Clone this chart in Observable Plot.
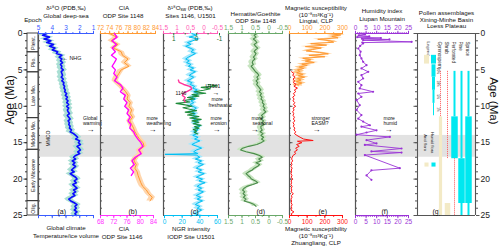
<!DOCTYPE html>
<html><head><meta charset="utf-8">
<script src="https://cdn.jsdelivr.net/npm/d3@7"></script>
<script src="https://cdn.jsdelivr.net/npm/@observablehq/plot@0.6"></script>
<style>
html,body{margin:0;padding:0;background:#fff;}
#chart{position:relative;width:500px;height:251px;overflow:hidden;font-family:Arial,"Liberation Sans",sans-serif;}
#chart svg{position:absolute;left:0;top:0;}
</style></head><body><div id="chart"></div>
<script>
// ---------------- DATA ----------------
const epochNames = ["Pleist.", "Plio.", "Late Mio.", "Middle Mio.", "Early Miocene", "Olig."];
const epochBounds = [0, 2.58, 5.33, 11.63, 15.97, 23.03, 25];
const mmcoBand = [14, 17];

// (a) global deep-sea d18O [age Ma, permil]
const d18O = [[0,4.4],[0.25,4.7],[0.5,4.2],[0.75,4.6],[1,4.1],[1.25,4.4],[1.5,3.9],[1.75,4.2],[2,3.8],[2.25,4.0],[2.5,3.6],[2.75,3.7],[3,3.3],[3.25,3.5],[3.5,3.3],[3.75,3.4],[4,3.25],[4.25,3.4],[4.5,3.3],[4.75,3.35],[5,3.2],[5.25,3.35],[5.5,3.3],[5.75,3.25],[6,3.35],[6.25,3.2],[6.5,3.3],[6.75,3.15],[7,3.2],[7.25,3.1],[7.5,3.15],[7.75,3.05],[8,3.1],[8.25,2.95],[8.5,3.05],[8.75,2.9],[9,3.0],[9.25,2.85],[9.5,2.95],[9.75,2.8],[10,2.95],[10.25,2.8],[10.5,2.9],[10.75,2.85],[11,2.75],[11.25,2.9],[11.5,2.8],[11.75,2.7],[12,2.85],[12.25,2.75],[12.5,2.8],[12.75,2.7],[13,2.75],[13.25,2.6],[13.5,2.7],[13.75,2.45],[14,2.3],[14.25,2.15],[14.5,2.3],[14.75,2.0],[15,2.1],[15.25,1.95],[15.5,2.2],[15.75,2.05],[16,1.95],[16.25,2.15],[16.5,2.0],[16.75,2.3],[17,2.45],[17.25,2.3],[17.5,2.55],[17.75,2.35],[18,2.5],[18.25,2.3],[18.5,2.45],[18.75,2.6],[19,2.4],[19.25,2.7],[19.5,2.5],[19.75,2.3],[20,2.2],[20.25,2.4],[20.5,2.25],[20.75,2.5],[21,2.35],[21.25,2.2],[21.5,2.45],[21.75,2.3],[22,2.5],[22.25,2.35],[22.5,2.6],[22.75,2.8],[23,2.65],[23.25,2.4],[23.5,2.2],[23.75,2.35],[24,2.25],[24.25,2.4],[24.5,2.2],[24.75,2.35],[25,2.25]];

// (b) CIA, ODP 1148 (top axis) and ODP 1146 (bottom axis)
const cia1148 = [[0,74],[0.5,75.5],[1,74.3],[1.5,75.8],[2,74.8],[2.5,76.5],[3,76.8],[3.5,78],[4,77.2],[4.5,78.2],[5,76.5],[5.5,76],[6,75.5],[6.5,75.2],[7,76],[7.5,76.8],[8,77.5],[8.5,78],[9,77.8],[9.5,78.5],[10,78.2],[10.5,78.8],[11,78.5],[11.5,79],[12,78.4],[12.5,78.8],[13,79.2],[13.5,79.5],[14,80],[14.5,80.5],[15,81.3],[15.5,81.5],[16,80.5],[16.5,80.8],[17,79.8],[17.5,79.3],[18,79.8],[18.5,79.5],[19,80],[19.5,80.2],[20,80.5],[20.5,80.8],[21,81.2],[21.5,82],[22,82.5],[22.5,83.3],[23,82.8]];
const cia1146 = [[0,72.2],[0.5,73],[1,71.5],[1.5,72.8],[2,71.5],[2.5,72.5],[3,71.3],[3.5,72.8],[4,72.2],[4.5,71.5],[5,72.5],[5.5,72],[6,73],[6.5,72.2],[7,74],[7.5,74.8],[8,74],[8.5,75.5],[9,75],[9.5,76],[10,75.3],[10.5,76.5],[11,76],[11.5,77],[12,76.3],[12.5,77.2],[13,76.8],[13.5,78],[14,78.5],[14.5,79.3],[15,80.2],[15.5,80.8],[16,79.5],[16.5,80.3],[17,78.5],[17.5,77.5],[18,78.2],[18.5,77],[19,78],[19.5,77.3]];

// (c) d18Osw 1146 (top pink), U1501 (inner green), NGR U1501 (bottom cyan)
const dsw1146 = [[6.4,0.95],[6.7,0.92],[7.0,0.75],[7.3,0.5],[7.6,0.45],[7.9,0.6],[8.2,0.75],[8.5,0.8],[8.8,0.7],[9.1,0.75],[9.4,0.7]];
const dswU1501 = [[7.0,-0.5],[7.2,-0.9],[7.4,-0.2],[7.6,-0.6],[7.8,-0.3],[8.0,0.1],[8.2,-0.4],[8.4,0.2],[8.6,-0.1],[8.8,0.4],[9.0,0.1],[9.2,0.6],[9.4,0.3],[9.6,0.9],[9.8,0.5],[10.0,0.2],[10.2,0.6],[10.4,0.3],[10.6,0.0],[10.8,0.5],[11.0,0.1],[11.2,0.4],[11.4,-0.1],[11.6,0.3],[11.8,-0.2],[12.0,0.2],[12.2,-0.1],[12.4,0.15],[12.6,-0.2],[12.8,0.1],[13.0,-0.1],[13.2,0.15],[13.4,0.0],[13.6,0.1],[13.8,-0.05]];
const ngrU1501 = [[0,31],[0.25,36],[0.5,28],[0.75,38],[1,32],[1.25,26],[1.5,30],[1.75,24],[2,29],[2.25,33],[2.5,30],[2.75,35],[3,31],[3.25,27],[3.5,24],[3.75,28],[4,25],[4.25,30],[4.5,27],[4.75,33],[5,29],[5.25,35],[5.5,31],[5.75,28],[6,33],[6.25,30],[6.5,26],[6.75,31],[7,29],[7.25,34],[7.5,32],[7.75,37],[8,33],[8.25,38],[8.5,34],[8.75,31],[9,35],[9.25,30],[9.5,33],[9.75,29],[10,32],[10.25,36],[10.5,33],[10.75,31],[11,35],[11.25,32],[11.5,36],[11.75,33],[12,38],[12.25,34],[12.5,36],[12.75,40],[13,35],[13.25,38],[13.5,33],[13.75,37],[14,32],[14.25,38],[14.5,34],[14.75,40],[15,35],[15.25,31],[15.5,37],[15.75,42],[16,36],[16.25,33],[16.5,38],[16.6,0.5],[16.7,36],[17,40],[17.25,35],[17.5,42],[17.75,38],[18,44],[18.25,39],[18.5,36],[18.75,42],[19,38],[19.25,45],[19.5,40],[19.75,36],[20,43],[20.25,39],[20.5,46],[20.75,40],[21,37],[21.25,42],[21.5,38],[21.75,44],[22,40],[22.25,36],[22.5,41],[22.75,37],[23,43],[23.25,38],[23.5,35],[23.75,40],[24,37],[24.25,42],[24.5,38],[24.75,35],[25,39]];

// (d) Hematite/Goethite ODP 1148
const hemGoe = [[0,0.45],[0.25,0.55],[0.5,0.48],[0.75,0.58],[1,0.5],[1.25,0.45],[1.5,0.55],[1.75,0.5],[2,0.42],[2.25,0.5],[2.5,0.55],[2.75,0.48],[3,0.52],[3.25,0.58],[3.5,0.52],[3.75,0.6],[4,0.62],[4.25,0.58],[4.5,0.66],[4.75,0.6],[5,0.55],[5.25,0.5],[5.5,0.42],[5.75,0.38],[6,0.45],[6.25,0.4],[6.5,0.48],[6.75,0.42],[7,0.46],[7.25,0.4],[7.5,0.35],[7.75,0.3],[8,0.36],[8.25,0.28],[8.5,0.33],[8.75,0.26],[9,0.3],[9.25,0.22],[9.5,0.25],[9.75,0.18],[10,0.22],[10.25,0.15],[10.5,0.2],[10.75,0.12],[11,0.2],[11.25,0.28],[11.5,0.22],[11.75,0.3],[12,0.2],[12.25,0.26],[12.5,0.18],[12.75,0.3],[13,0.3],[13.25,0.25],[13.5,0.33],[13.75,0.22],[14,0.3],[14.25,0.2],[14.5,0.28],[14.75,0.18],[15,0.3],[15.25,0.45],[15.5,0.75],[15.75,0.98],[16,1.05],[16.25,0.85],[16.5,0.55],[16.75,0.35],[17,0.25],[17.25,0.38],[17.5,0.3],[17.75,0.48],[18,0.35],[18.25,0.42],[18.5,0.55],[18.75,0.62],[19,0.75],[19.25,0.85],[19.5,0.78],[19.75,0.7],[20,0.65],[20.25,0.5],[20.5,0.42],[20.75,0.6],[21,0.82],[21.25,0.92],[21.5,0.98],[21.75,0.9],[22,0.96],[22.25,0.88],[22.5,0.95],[22.75,0.85],[23,0.92],[23.25,0.7],[23.5,0.55],[23.75,0.48]];

// (e) Magnetic susceptibility: Lingtai (top, orange), Zhuanglang (bottom, red)
const msLingtai = [[0,210],[0.2,290],[0.4,240],[0.6,275],[0.8,160],[1,230],[1.2,250],[1.4,120],[1.6,210],[1.8,90],[2,180],[2.2,130],[2.4,95],[2.6,170],[2.8,220],[3,110],[3.2,200],[3.4,75],[3.6,120],[3.8,90],[4,140],[4.2,70],[4.4,100],[4.6,55],[4.8,80],[5,45],[5.2,60],[5.4,40],[5.6,75],[5.8,50],[6,85],[6.2,45],[6.4,65],[6.6,40],[6.8,70],[7,45],[7.2,50]];
const msZhuanglang = [[5.25,12],[5.5,25],[5.75,18],[6,32],[6.25,20],[6.5,28],[6.75,22],[7,38],[7.25,25],[7.5,45],[7.75,28],[8,35],[8.25,22],[8.5,30],[8.75,18],[9,26],[9.25,20],[9.5,30],[9.75,22],[10,35],[10.25,20],[10.5,26],[10.75,18],[11,24],[11.25,20],[11.5,28],[11.75,22],[12,30],[12.25,20],[12.5,26],[12.75,22],[13,30],[13.25,25],[13.5,35],[13.75,28],[14,42],[14.25,60],[14.5,80],[14.7,134],[14.8,45],[15,70],[15.25,40],[15.5,55],[15.75,35],[16,45],[16.25,28],[16.5,35],[16.75,20],[17,15],[17.25,12],[17.5,18],[17.75,10],[18,14],[18.25,8],[18.5,15],[18.75,10],[19,12],[19.25,8],[19.5,14],[19.75,10],[20,18],[20.25,9],[20.5,12],[20.75,8],[21,15],[21.25,10],[21.5,13],[21.75,9],[22,22],[22.25,11],[22.5,14],[22.75,8],[23,12],[23.25,9],[23.5,15],[23.75,10],[24,13],[24.25,8],[24.5,25],[24.75,10],[25,14]];

// (f) Humidity index, Liupan Mountain
const humidity = [[0,2.0],[0.12,4.5],[0.25,1.5],[0.4,6.5],[0.5,0.8],[0.62,12],[0.72,3],[0.82,16],[0.92,3.6],[1.15,26.5],[1.25,3.2],[1.37,3.6],[1.7,2.2],[2.06,1.3],[2.5,2.4],[2.98,2.0],[3.43,2.8],[3.89,3.6],[4.35,5.2],[4.8,2.8],[5.26,6.0],[5.72,2.8],[6.18,3.6],[6.64,1.3],[7.1,2.8],[7.55,2.0],[8.0,8.3],[8.24,1.3],[8.7,2.8],[9.16,0.5],[9.84,2.0],[10.5,0.5],[11.2,2.8],[11.7,1.3],[12.1,3.6],[12.6,6.8],[12.8,2.8],[13.3,9.9],[13.6,5.2],[13.9,0.5],[14.2,16.2],[14.65,5.2],[15.1,9.9],[15.3,4.4],[15.8,21.7],[16.2,7.5],[16.35,21.7],[16.7,4.4],[18.5,20.9],[18.8,7.5],[19.5,5.2],[20.1,7.5]];

// (g) Pollen assemblages, Xining-Minhe Basin
const pollenTaxa = ["Gymnosperm", "Shrub", "Perforated", "Pine", "Spruce"];
const floraKeys = ["Arid flora", "Humid flora"];
const aridTaxa = ["Gymnosperm", "Shrub"];
const pollenSegments = [
  ["Gymnosperm", 5.2, 11.45, "absent"], ["Gymnosperm", 11.45, 25, "minor"],
  ["Shrub", 5.2, 17.2, "absent"], ["Shrub", 23.35, 25, "major"],
  ["Perforated", 5.2, 11.45, "minor"], ["Perforated", 11.45, 17.2, "major"], ["Perforated", 17.2, 25, "absent"],
  ["Pine", 5.2, 17.2, "minor"], ["Pine", 17.2, 23.35, "major"], ["Pine", 23.35, 25, "minor"],
  ["Spruce", 5.2, 11.45, "minor"], ["Spruce", 11.45, 23.35, "major"], ["Spruce", 23.35, 25, "minor"]
];
const legendPercents = ["20%", "10%", "5%", "1%"];
const legendSpans = [[4.3, 6.0], [6.0, 7.8], [7.8, 9.6], [9.6, 11.3]];

const ageMajor = [0, 5, 10, 15, 20, 25];

// ---------------- DRAWING ----------------
const FONT = 'Arial, "Liberation Sans", sans-serif';
const STYLE = `background:transparent;overflow:visible;font-family:${FONT};`;
const chart = document.getElementById("chart");
const AX = "#555";
const AGE_MINOR = d3.range(0, 26);
const A = d => d[0], V = d => d[1];

function layer(left, right, x, marks, extra = {}) {
  const svg = Plot.plot(Object.assign({
    width: 500, height: 251,
    marginLeft: left, marginRight: 500 - right, marginTop: 33, marginBottom: 36,
    x: Object.assign({axis: null}, x),
    y: {domain: [0, 25], reverse: true, axis: null},
    style: STYLE,
    marks
  }, extra));
  chart.appendChild(svg);
  return svg;
}
const fmt = d => String(d);
const blank = () => "";
function hAxis(anchor, color, major, minor, labels = true) {
  return [
    Plot.ruleY([anchor === "top" ? 0 : 25], {stroke: color, strokeWidth: 1}),
    Plot.axisX({anchor, ticks: minor, tickSize: 1.8, tickFormat: blank, stroke: color, label: null}),
    Plot.axisX({anchor, ticks: major, tickSize: 3.2, tickPadding: 0.8, tickFormat: labels ? fmt : blank,
      stroke: color, fill: color, fontSize: 6.5, label: null})
  ];
}
function vAxis(xv) {
  return [
    Plot.ruleX([xv], {stroke: AX, strokeWidth: 1.2}),
    Plot.axisY({anchor: "left", ticks: AGE_MINOR, tickSize: -2, tickFormat: blank, stroke: AX, label: null}),
    Plot.axisY({anchor: "left", ticks: ageMajor, tickSize: -3.5, tickFormat: blank, stroke: AX, label: null})
  ];
}
function txt(s, o) { return Plot.text([s], Object.assign({text: d => d, fontSize: 6.2, fill: "#111"}, o)); }
// annotation at page pixel (px, py) given the layer frame's left edge L
function note(s, L, px, py, o = {}) {
  return txt(s, Object.assign({frameAnchor: "top-left", dx: px - L, dy: py - 33, fontSize: 5}, o));
}
function arrowGlyph(L, px, py, size = 8) {
  return note("\u2192", L, px, py, {fontSize: size, fontWeight: "bold"});
}

// gray MMCO band
layer(38, 475, {domain: [0, 1]}, [
  Plot.rect([mmcoBand], {y1: d => d[0], y2: d => d[1], fill: "#e2e2e2"})
]);

// Epoch column + left age axis
const epochs = epochNames.map((name, i) => ({name, start: epochBounds[i], end: epochBounds[i + 1]}));
layer(27, 38, {domain: [0, 1]}, [
  Plot.rect(epochs, {y1: "start", y2: "end", stroke: "#333", strokeWidth: 0.9, fill: "none"}),
  Plot.text(epochs, {y: d => (d.start + d.end) / 2, text: "name", rotate: -90, fontSize: 5.2, fill: "#222"}),
  Plot.axisY({anchor: "left", ticks: AGE_MINOR, tickSize: 2, tickFormat: blank, stroke: "#333", label: null}),
  Plot.axisY({anchor: "left", ticks: ageMajor, tickSize: 3.5, tickPadding: 1.5, tickFormat: fmt, fontSize: 8.5, fill: "#222", stroke: "#333", label: null}),
  txt("Epoch", {frameAnchor: "top", dy: -16}),
  txt("Age (Ma)", {frameAnchor: "left", dx: -17, rotate: -90, fontSize: 12})
]);

// (a) d18O
layer(38, 93, {domain: [5, 1]}, [
  ...vAxis(5),
  Plot.areaX(d18O, {y: A, x1: d => d[1] - 0.3, x2: d => d[1] + 0.3, fill: "#aadfd4"}),
  Plot.lineX(d18O, {y: A, x: V, stroke: "#0a0aff", strokeWidth: 1.6}),
  ...hAxis("top", "#3a5cff", [5, 4, 3, 2, 1], d3.range(1, 5.01, 0.5)),
  ...hAxis("bottom", "#3a5cff", [5, 4, 3, 2, 1], d3.range(1, 5.01, 0.5), false),
  txt("\u03b4\u00b9\u2078O (PDB,\u2030)", {frameAnchor: "top", dy: -27.5}),
  txt("Global deep-sea", {frameAnchor: "top", dy: -19.5}),
  txt("Global climate", {frameAnchor: "bottom", dy: 14}),
  txt("Temperature/ice volume", {frameAnchor: "bottom", dy: 22}),
  note("\u2190 NHG", 38, 62, 55.5, {textAnchor: "start", fontSize: 5.4}),
  note("Global", 38, 82.5, 115.5),
  note("warming", 38, 82.5, 120.7),
  arrowGlyph(38, 86, 126),
  note("MMCO", 38, 46, 146, {rotate: -90}),
  note("(a)", 38, 57, 209, {fontSize: 7})
]);

// (b) CIA 1148 (top)
layer(100, 155, {domain: [72, 84]}, [
  ...vAxis(72),
  Plot.areaX(cia1148, {y: A, x1: d => d[1] - 0.7, x2: d => d[1] + 0.7, fill: "#ffd6ad"}),
  Plot.lineX(cia1148, {y: A, x: V, stroke: "#ff9a33", strokeWidth: 1}),
  ...hAxis("top", "#ff9a33", d3.range(72, 84.1, 2), d3.range(72, 84.1, 1)),
  txt("CIA", {frameAnchor: "top", dx: -4, dy: -27.5}),
  txt("ODP Site 1148", {frameAnchor: "top", dx: -5, dy: -19.5})
]);
// (b) CIA 1146 (bottom)
layer(100, 153, {domain: [68, 84]}, [
  Plot.lineX(cia1146, {y: A, x: V, stroke: "#ff00ff", strokeWidth: 1.3}),
  ...hAxis("bottom", "#ff33ff", d3.range(68, 84.1, 4), d3.range(68, 84.1, 2)),
  txt("CIA", {frameAnchor: "bottom", dx: -3, dy: 15}),
  txt("ODP Site 1146", {frameAnchor: "bottom", dx: -5, dy: 23}),
  note("more", 100, 146, 115.5),
  note("weathering", 100, 146, 120.7),
  arrowGlyph(100, 148, 126),
  note("(b)", 100, 128, 209, {fontSize: 7})
]);

// (c) d18Osw 1146 (top pink)
layer(163, 217, {domain: [1.5, -0.5]}, [
  ...vAxis(1.5),
  ...hAxis("top", "#ff5fb8", [1.5, 1, 0.5, 0, -0.5], d3.range(-0.5, 1.51, 0.25)),
  txt("\u03b4\u00b9\u2078O", {frameAnchor: "top", dx: -10, dy: -27.5, textAnchor: "end"}),
  txt("sw", {frameAnchor: "top", dx: -10, dy: -25.5, textAnchor: "start", fontSize: 4.5}),
  txt(" (PDB,\u2030)", {frameAnchor: "top", dx: -4.5, dy: -27.5, textAnchor: "start"}),
  txt("Sites 1146, U1501", {frameAnchor: "top", dy: -19.5})
]);
// (c) NGR (bottom cyan)
layer(164, 217, {domain: [0, 60]}, [
  Plot.areaX(ngrU1501, {y: A, x1: d => d[1] - 4, x2: d => d[1] + 4, fill: "#a6e8fc"}),
  Plot.lineX(ngrU1501, {y: A, x: V, stroke: "#00bff3", strokeWidth: 1}),
  ...hAxis("bottom", "#00bff3", [0, 20, 40, 60], d3.range(0, 60.1, 10)),
  txt("NGR intensity", {frameAnchor: "bottom", dy: 15}),
  txt("IODP Site U1501", {frameAnchor: "bottom", dy: 23}),
  note("(c)", 164, 190, 209, {fontSize: 7})
]);
// (c) U1501 d18Osw (green inner scale) and 1146 (pink)
layer(163, 219, {domain: [1.45, -1]}, [
  Plot.lineX(dswU1501, {y: A, x: V, stroke: "#1e8c3a", strokeWidth: 1.1})
]);
layer(163, 217, {domain: [1.5, -0.5]}, [
  Plot.lineX(dsw1146, {y: A, x: V, stroke: "#ff3399", strokeWidth: 1.4}),
  note("U1501", 163, 205, 84),
  note("1146", 163, 175, 90.5),
  arrowGlyph(163, 212, 89.3, 7),
  note("more", 163, 211, 97.3),
  note("freshwater", 163, 208, 102.8),
  note("more", 163, 210, 115.5),
  note("erosion", 163, 210, 120.7),
  arrowGlyph(163, 212, 126)
]);
// inner green axis (ticks down from top line)
layer(163, 219, {domain: [1.45, -1]}, [
  Plot.axisX({anchor: "bottom", ticks: [1, 0, -1], tickSize: 2.5, tickPadding: 0.5, tickFormat: fmt,
    stroke: "#1e8c3a", fill: "#1e6a30", fontSize: 6.4, label: null}),
  Plot.axisX({anchor: "bottom", ticks: [0.5, -0.5], tickSize: 1.5, tickFormat: blank, stroke: "#1e8c3a", label: null})
], {marginTop: 10, marginBottom: 218, y: {domain: [0, 1], axis: null}});

// (d) Hematite/Goethite
layer(228, 282, {domain: [1.5, -0.5]}, [
  ...vAxis(1.5),
  Plot.areaX(hemGoe, {y: A, x1: d => d[1] - 0.13, x2: d => d[1] + 0.13, fill: "#c8e5c1"}),
  Plot.lineX(hemGoe, {y: A, x: V, stroke: "#4a8a4a", strokeWidth: 1.1}),
  ...hAxis("top", "#6aa86a", [1.5, 1, 0.5, 0, -0.5], d3.range(-0.5, 1.51, 0.25)),
  ...hAxis("bottom", "#6aa86a", [1.5, 1, 0.5, 0, -0.5], d3.range(-0.5, 1.51, 0.25)),
  txt("Hematite/Goethite", {frameAnchor: "top", dy: -22}),
  txt("ODP Site 1148", {frameAnchor: "top", dy: -15}),
  note("more", 228, 251, 115.5),
  note("seasonal", 228, 252, 120.7),
  arrowGlyph(228, 250, 126),
  note("(d)", 228, 256, 209, {fontSize: 7})
]);

// (e) Magnetic susceptibility
layer(289, 342, {domain: [0, 300]}, [
  ...vAxis(0),
  Plot.areaX(msLingtai, {y: A, x1: d => Math.max(0, d[1] - 25), x2: d => d[1] + 25, fill: "#ffc88a"}),
  Plot.lineX(msLingtai, {y: A, x: V, stroke: "#ff9a33", strokeWidth: 1}),
  Plot.lineX(msZhuanglang, {y: A, x: V, stroke: "#ff1010", strokeWidth: 1}),
  ...hAxis("top", "#ff9a33", [0, 100, 200, 300], d3.range(0, 300.1, 50)),
  ...hAxis("bottom", "#ff1010", [0, 100, 200, 300], d3.range(0, 300.1, 50)),
  txt("Magnetic susceptibility", {frameAnchor: "top", dy: -28}),
  txt("(10\u207b\u2078m\u00b3Kg\u207b\u00b9)", {frameAnchor: "top", dy: -21.3}),
  txt("Lingtai, CLP", {frameAnchor: "top", dy: -14.5}),
  txt("Magnetic susceptibility", {frameAnchor: "bottom", dy: 15.5}),
  txt("(10\u207b\u2078m\u00b3Kg\u207b\u00b9)", {frameAnchor: "bottom", dy: 22.8}),
  txt("Zhuangliang, CLP", {frameAnchor: "bottom", dy: 29.8}),
  note("stronger", 289, 311, 115.5),
  note("EASM?", 289, 311, 120.7),
  arrowGlyph(289, 312, 126),
  note("(e)", 289, 318, 209, {fontSize: 7})
]);

// (f) Humidity index
layer(355, 408, {domain: [0, 25]}, [
  ...vAxis(0),
  Plot.lineX(humidity, {y: A, x: V, stroke: "#9a33d6", strokeWidth: 0.9}),
  Plot.dot(humidity, {y: A, x: V, r: 1.1, fill: "#9a33d6"}),
  ...hAxis("top", "#9a33d6", [0, 5, 10, 15, 20, 25], d3.range(0, 25.1, 1)),
  ...hAxis("bottom", "#9a33d6", [0, 5, 10, 15, 20, 25], d3.range(0, 25.1, 1)),
  txt("Humidity index", {frameAnchor: "top", dy: -24.7}),
  txt("Liupan Mountain", {frameAnchor: "top", dy: -17}),
  note("more", 355, 383, 115.5),
  note("humid", 355, 383, 120.7),
  arrowGlyph(355, 384, 126),
  note("(f)", 355, 381, 209, {fontSize: 7})
]);

// (g) frame / axes
layer(417, 475, {domain: [0, 1]}, [
  Plot.ruleX([0, 1], {stroke: AX, strokeWidth: 1.1}),
  Plot.ruleY([0, 25], {stroke: AX, strokeWidth: 1.1}),
  Plot.axisY({anchor: "left", ticks: AGE_MINOR, tickSize: 2, tickFormat: blank, stroke: AX, label: null}),
  Plot.axisY({anchor: "left", ticks: ageMajor, tickSize: 3.5, tickFormat: blank, stroke: AX, label: null}),
  Plot.axisY({anchor: "right", ticks: AGE_MINOR, tickSize: 2, tickFormat: blank, stroke: AX, label: null}),
  Plot.axisY({anchor: "right", ticks: ageMajor, tickSize: 3.5, tickPadding: 1.5, tickFormat: fmt, fontSize: 8.5, fill: "#222", stroke: AX, label: null}),
  txt("Age (Ma)", {frameAnchor: "right", dx: 18, rotate: 90, fontSize: 11.5}),
  txt("Pollen assemblages", {frameAnchor: "top", dy: -23}),
  txt("Xining-Minhe Basin", {frameAnchor: "top", dy: -16}),
  txt("Loess Plateau", {frameAnchor: "top", dy: -9.5}),
  note("(g)", 417, 432, 209, {fontSize: 7})
]);
// (g) pollen bars
const segs = pollenSegments.map(([taxon, from, to, level]) => ({taxon, from, to, level, arid: aridTaxa.includes(taxon)}));
const widthOf = s => s.level === "major" ? (s.arid ? 5.5 : 6.5) : (s.arid ? 3.2 : 2);
const legendWedge = legendPercents.map((p, i) => ({p, from: legendSpans[i][0], to: legendSpans[i][1], i}));
layer(417, 475, {type: "point", domain: [...floraKeys, ...pollenTaxa], range: [425, 469], padding: 0}, [
  Plot.ruleX(segs.filter(s => s.level !== "absent"), {x: "taxon", y1: "from", y2: "to",
    stroke: s => s.arid ? "#f3eac6" : "#00e8f0", strokeWidth: widthOf}),
  Plot.ruleX(segs.filter(s => s.level === "absent"), {x: "taxon", y1: "from", y2: "to",
    stroke: "#ff6060", strokeWidth: 0.9, strokeDasharray: "1.2,0.8"}),
  Plot.text(pollenTaxa, {x: d => d, text: d => d, frameAnchor: "top", dy: 8, dx: 1, rotate: 90, textAnchor: "start", fontSize: 4.6, fill: "#222"}),
  // legend
  Plot.text(["Legend"], {x: () => "Humid flora", text: d => d, frameAnchor: "top", dy: 8, dx: -3.5, rotate: 90, textAnchor: "start", fontSize: 4.2, fill: "#222"}),
  Plot.ruleX(floraKeys, {x: d => d, y1: () => 3.0, y2: () => 4.2, stroke: d => d === "Arid flora" ? "#f3eac6" : "#00e8f0", strokeWidth: 5}),
  Plot.ruleX(legendWedge, {x: () => "Humid flora", y1: "from", y2: "to", stroke: "#00e8f0", strokeWidth: d => 4 - d.i}),
  Plot.text(legendWedge, {x: () => "Humid flora", y: d => (d.from + d.to) / 2, text: "p", dx: 4.5, rotate: 90, fontSize: 3.2, fill: "#333"}),
  Plot.text(floraKeys, {x: d => d, y: () => 15, text: d => d, rotate: 90, dx: -1, fontSize: 4.2, fill: "#222"}),
  Plot.dot(floraKeys, {x: d => d, y: () => 18, symbol: "square", r: 2.3, fill: d => d === "Arid flora" ? "#f3eac6" : "#00e8f0"})
]);
</script></body></html>
